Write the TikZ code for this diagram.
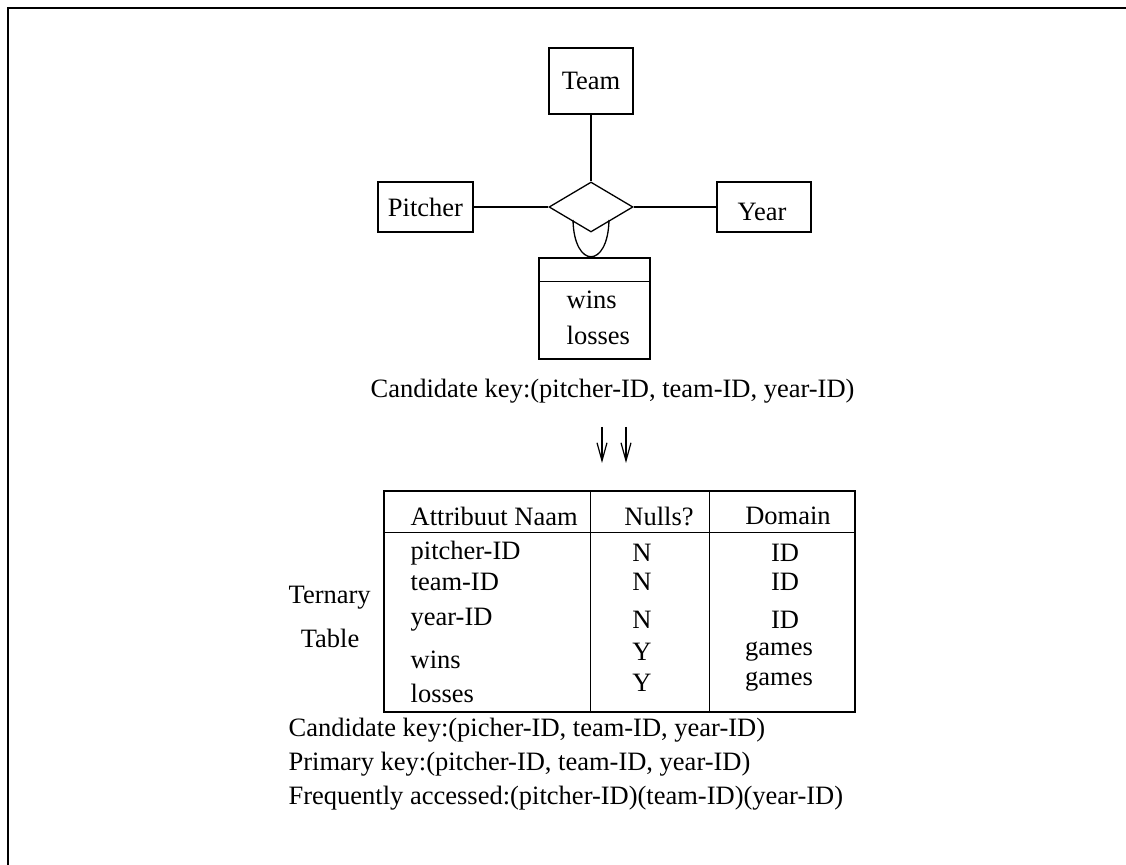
\documentclass[tikz,border=0pt]{standalone}
\usepackage{fontspec}
\setmainfont{Liberation Serif}
\usetikzlibrary{shapes.geometric,arrows.meta,calc}
\begin{document}
\begin{tikzpicture}[x=0.5pt,y=-0.5pt,
  font=\fontsize{13.25pt}{15pt}\selectfont,
  line width=0.65pt,
  entity/.style={draw,rectangle,inner sep=0pt},
  txt/.style={inner sep=0pt},
  ltxt/.style={inner sep=0pt,anchor=west},
  down/.style={-{Straight Barb[length=9pt,width=5pt,line width=0.6pt]}}]
\useasboundingbox (0,0) rectangle (1126,865);
% page frame (top and left edges)
\draw[line width=1.1pt] (8,865) -- (8,8) -- (1126,8);

% ER part
\node[entity,minimum width=42pt,minimum height=33pt] (team) at (591,81) {Team};
\node[entity,minimum width=47.5pt,minimum height=25pt] (pitcher) at (425.5,207) {Pitcher};
\node[entity,minimum width=47pt,minimum height=25pt,
  label={[name=yearlbl,inner sep=0pt,xshift=-1pt,yshift=-2.5pt]center:Year}] (year) at (764,207) {};
\node[draw,diamond,inner sep=0pt,shape aspect=1.68,minimum width=42pt,minimum height=25pt] (rel) at (591,207) {};
\node[entity,minimum width=55.5pt,minimum height=50.5pt] (attr) at (594.5,308.5) {};
\draw ([yshift=-12pt]attr.north west) -- ([yshift=-12pt]attr.north east);
\node[ltxt] (wins) at (566,300) {wins};
\node[ltxt] (losses) at (566,335) {losses};

\draw (team) -- (rel);
\draw (pitcher) -- (rel);
\draw (rel) -- (year);
\coordinate (uL) at (573,220);
\coordinate (uR) at (609,220);
\draw (uL) .. controls (574,269) and (608,269) .. (uR);

\node[ltxt] (ck1) at (370,391) {Candidate key:(pitcher-ID, team-ID, year-ID)};

% double down arrow
\coordinate (a1s) at (602,427); \coordinate (a1e) at (602,463);
\coordinate (a2s) at (626,427); \coordinate (a2e) at (626,463);
\draw[down] (a1s) -- (a1e);
\draw[down] (a2s) -- (a2e);

% table
\node[draw,rectangle,inner sep=0pt,minimum width=235.5pt,minimum height=110.5pt] (tbl) at (619.5,601.5) {};
\draw ([yshift=-21pt]tbl.north west) -- ([yshift=-21pt]tbl.north east);
\draw ($(tbl.north west)+(207,0)$) -- ($(tbl.south west)+(207,0)$);
\draw ($(tbl.north west)+(326,0)$) -- ($(tbl.south west)+(326,0)$);

\node[ltxt] (h1) at (410,516) {Attribuut Naam};
\node[txt] (h2) at (659,516) {Nulls?};
\node[txt] (h3) at (788,516) {Domain};

\node[ltxt] (r1) at (410,553) {pitcher-ID};
\node[ltxt] (r2) at (410,582) {team-ID};
\node[ltxt] (r3) at (410,620) {year-ID};
\node[ltxt] (r4) at (410,660) {wins};
\node[ltxt] (r5) at (410,693) {losses};

\node[txt] (n1) at (642,553) {N};
\node[txt] (n2) at (642,582) {N};
\node[txt] (n3) at (642,620) {N};
\node[txt] (n4) at (642,652) {Y};
\node[txt] (n5) at (642,683) {Y};

\node[txt] (d1) at (785,553) {ID};
\node[txt] (d2) at (785,582) {ID};
\node[txt] (d3) at (785,620) {ID};
\node[txt] (d4) at (779,652) {games};
\node[txt] (d5) at (779,682) {games};

\node[ltxt] (tern) at (288,598) {Ternary};
\node[txt] (tab) at (330,638) {Table};

\node[ltxt] (ck2) at (288,730) {Candidate key:(picher-ID, team-ID, year-ID)};
\node[ltxt] (pk) at (288,764) {Primary key:(pitcher-ID, team-ID, year-ID)};
\node[ltxt] (fa) at (288,798) {Frequently accessed:(pitcher-ID)(team-ID)(year-ID)};
\end{tikzpicture}
\end{document}
